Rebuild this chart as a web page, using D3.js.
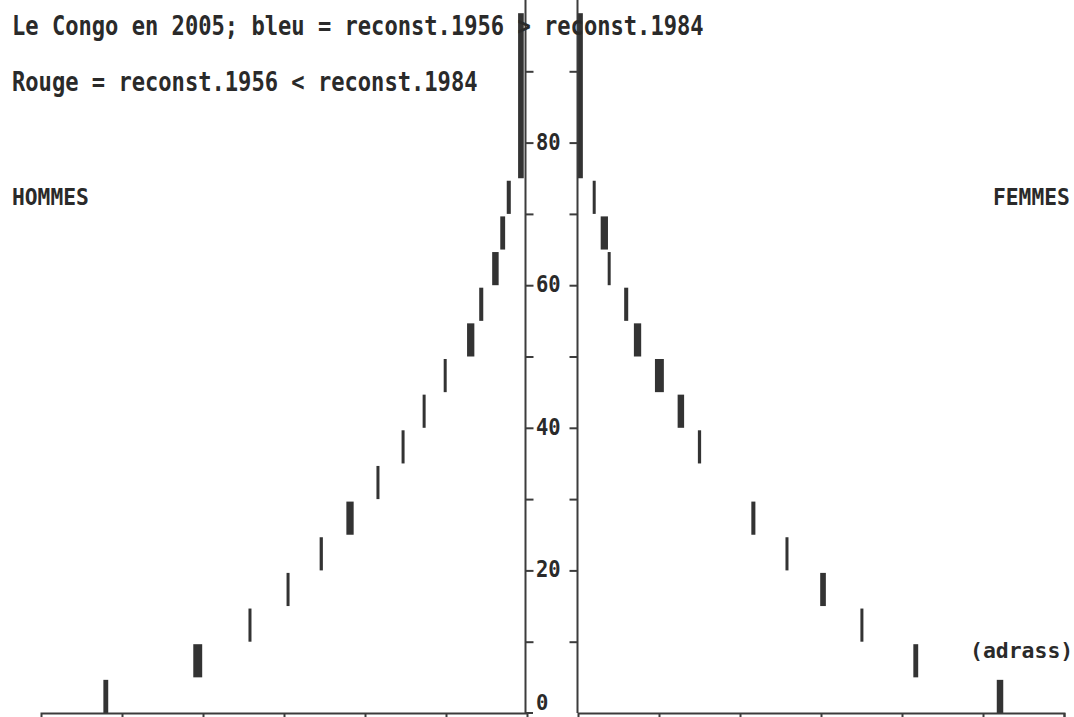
<!DOCTYPE html>
<html>
<head>
<meta charset="utf-8">
<script src="https://cdn.jsdelivr.net/npm/d3@7"></script>
<style>
  html, body { margin: 0; padding: 0; background: #fff; }
  svg { display: block; }
  text { font-family: "DejaVu Sans Mono", monospace; fill: #2a2a2a; white-space: pre; font-weight: bold; }
</style>
</head>
<body>
<svg id="chart" width="1074" height="717"></svg>
<script>
// ---- data (age groups, 5-year; values in axis units) ----
const ageLow  = [0, 5, 10, 15, 20, 25, 30, 35, 40, 45, 50, 55, 60, 65, 70, 75];
const ageHigh = [5, 10, 15, 20, 25, 30, 35, 40, 45, 50, 55, 60, 65, 70, 75, 98.5];

const hommes1956 = [5.17, 4.01, 3.41, 2.94, 2.52, 2.14, 1.83, 1.52, 1.26, 1.00, 0.65, 0.54, 0.35, 0.27, 0.20, 0.04];
const hommes1984 = [5.23, 4.12, 3.43, 2.96, 2.56, 2.23, 1.85, 1.54, 1.28, 1.02, 0.74, 0.59, 0.43, 0.33, 0.25, 0.11];
const femmes1956 = [5.17, 4.14, 3.49, 2.99, 2.57, 2.14, null, 1.48, 1.23, 0.95, 0.69, 0.57, 0.37, 0.28, 0.19, 0.00];
const femmes1984 = [5.25, 4.20, 3.52, 3.06, 2.59, 2.19, null, 1.52, 1.31, 1.06, 0.78, 0.62, 0.40, 0.37, 0.21, 0.06];

const yTicks = [10, 20, 30, 40, 50, 60, 70, 80, 90];
const yTickLabels = [0, 20, 40, 60, 80];
const xTicks = [1, 2, 3, 4, 5, 6];

const titleLine1 = "Le Congo en 2005; bleu = reconst.1956 > reconst.1984";
const titleLine2 = "Rouge = reconst.1956 < reconst.1984";
const leftLabel = "HOMMES";
const rightLabel = "FEMMES";
const credit = "(adrass)";

// ---- scales ----
const svg = d3.select("#chart");
const y = d3.scaleLinear().domain([0, 100]).range([713, 0]);
const xL = d3.scaleLinear().domain([0, 6]).range([527, 41]);
const xR = d3.scaleLinear().domain([0, 6]).range([578, 1064]);

const ink = "#333";
const axisInk = "#3c3c3c";

// ---- bars ----
function drawBars(xs, a, b) {
  const data = ageLow.map((lo, i) => ({lo, hi: ageHigh[i], a: a[i], b: b[i]}))
    .filter(d => d.a != null && d.b != null);
  svg.append("g").selectAll("rect").data(data).join("rect")
    .attr("x", d => {
      const x1 = xs(d.a), x2 = xs(d.b);
      const w = Math.abs(x2 - x1);
      const c = (x1 + x2) / 2;
      return w < 3 ? c - 1.5 : Math.min(x1, x2);
    })
    .attr("width", d => Math.max(3, Math.abs(xs(d.b) - xs(d.a))))
    .attr("y", d => y(d.hi - 0.35))
    .attr("height", d => y(d.lo) - y(d.hi - 0.35))
    .attr("fill", ink);
}
drawBars(xL, hommes1956, hommes1984);
drawBars(xR, femmes1956, femmes1984);

// ---- vertical axes ----
const axL = d3.axisRight(y).tickValues(yTicks).tickSize(8).tickFormat("");
const axR = d3.axisLeft(y).tickValues(yTicks).tickSize(8).tickFormat("");
function styleAxis(g) {
  g.select(".domain").remove();
  g.selectAll(".tick line").attr("stroke", axisInk).attr("stroke-width", 2);
}
svg.append("g").attr("transform", "translate(525.5,0)").call(axL).call(styleAxis);
svg.append("g").attr("transform", "translate(577.5,0)").call(axR).call(styleAxis);
svg.append("line").attr("x1", 525.5).attr("x2", 525.5).attr("y1", y(100)).attr("y2", y(0))
  .attr("stroke", axisInk).attr("stroke-width", 2);
svg.append("line").attr("x1", 577.5).attr("x2", 577.5).attr("y1", y(100)).attr("y2", y(0))
  .attr("stroke", axisInk).attr("stroke-width", 2);
// zero tick on left axis
svg.append("line").attr("x1", 525.5).attr("x2", 533).attr("y1", y(0)).attr("y2", y(0))
  .attr("stroke", axisInk).attr("stroke-width", 2);

// y labels
svg.append("g").selectAll("text").data(yTickLabels).join("text")
  .attr("transform", d => d === 0
      ? `translate(536,${y(d) - 3})`
      : `translate(536,${y(d) + 7}) scale(1,1.1)`)
  .attr("font-size", 20.5)
  .text(d => d);

// ---- horizontal axes ----
const bx1 = d3.axisBottom(xL).tickValues(xTicks.slice(0, 5)).tickSize(6).tickFormat("");
const bx2 = d3.axisBottom(xR).tickValues(xTicks).tickSize(6).tickFormat("");
function styleX(g) {
  g.select(".domain").attr("stroke", axisInk).attr("stroke-width", 2);
  g.selectAll(".tick line").attr("stroke", axisInk).attr("stroke-width", 2);
}
svg.append("g").attr("transform", `translate(0,${y(0)})`).call(bx1).call(styleX);
svg.append("g").attr("transform", `translate(0,${y(0)})`).call(bx2).call(styleX);

// ---- texts ----
function txt(s, x, yy, size, sy, len) {
  const t = svg.append("text")
    .attr("transform", `translate(${x},${yy}) scale(1,${sy})`)
    .attr("font-size", size)
    .text(s);
  if (len) t.attr("textLength", len).attr("lengthAdjust", "spacingAndGlyphs");
  return t;
}
txt(titleLine1, 12, 35, 22, 1.22, 52 * 13.3);
txt(titleLine2, 12, 91, 22, 1.22, 35 * 13.3);
txt(leftLabel, 12, 205, 21, 1.12, 6 * 12.8);
txt(rightLabel, 993, 205, 21, 1.12, 6 * 12.8);
txt(credit, 970, 658, 21, 1.05, 8 * 12.9);
</script>
</body>
</html>
